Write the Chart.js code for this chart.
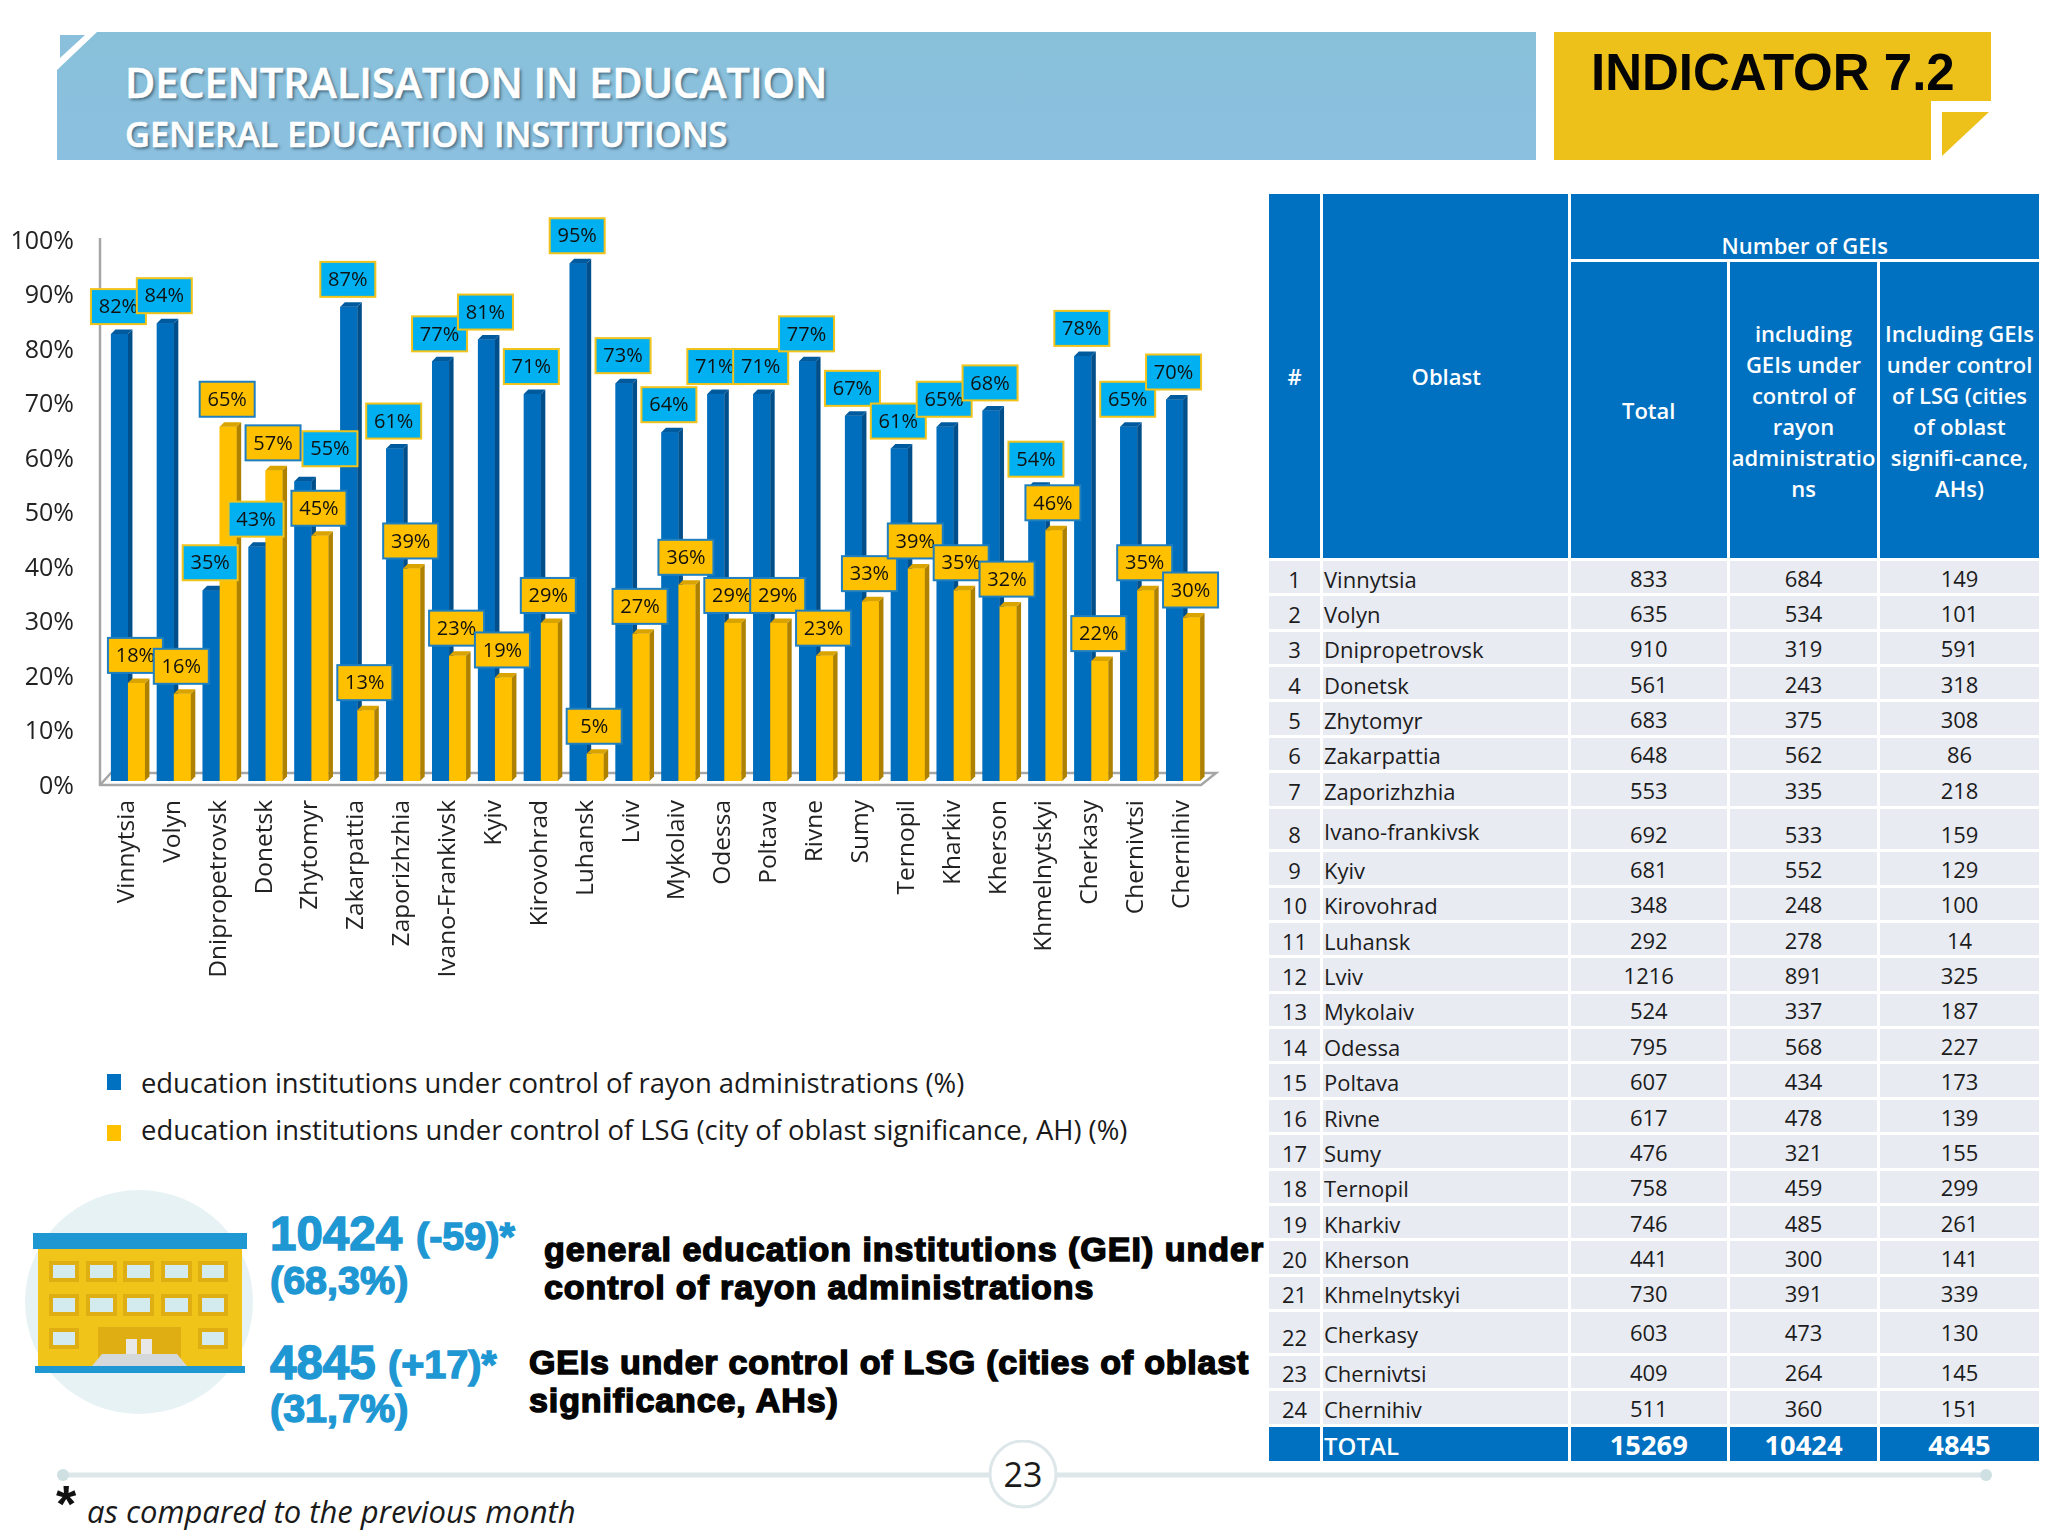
<!DOCTYPE html>
<html>
<head>
<meta charset="utf-8">
<title>Indicator 7.2</title>
<script src="https://cdn.jsdelivr.net/npm/chart.js@4"></script>
<style>
  html, body { margin: 0; padding: 0; background: #fff; }
  body { position: relative; width: 2048px; height: 1536px; overflow: hidden; font-family: "Open Sans", sans-serif; color: #1a1a1a; }
  .abs { position: absolute; white-space: nowrap; line-height: 1; }
  #chartBox { position: absolute; left: 0; top: 190px; width: 1260px; height: 820px; }
  .title1 { left: 125px; top: 62px; font-size: 41.3px; font-weight: 600; color: #fff; -webkit-text-stroke: 0.6px #fff; text-shadow: 2px 2px 3px rgba(50,80,100,.75); }
  .title2 { left: 125px; top: 117px; font-size: 34.3px; font-weight: 600; color: #fff; -webkit-text-stroke: 0.6px #fff; text-shadow: 2px 2px 3px rgba(50,80,100,.75); }
  .indicator { left: 1591px; top: 43px; font: bold 51px "Liberation Sans", sans-serif; color: #050505; }
  .legendMark { position: absolute; width: 14px; height: 16px; }
  .legendText { left: 141px; font-size: 27.4px; color: #1a1a1a; }
  .stat { font-family: "Liberation Sans", sans-serif; font-weight: bold; color: #1e97d3; -webkit-text-stroke: 1.4px #1e97d3; }
  .big { font-size: 47.5px; }
  .mid { font-size: 39.5px; }
  .note { font: bold 34px "Liberation Sans", sans-serif; letter-spacing: 0.9px; color: #050505; -webkit-text-stroke: 1.5px #050505; }
  #table { position: absolute; left: 1269px; top: 194px; display: grid; grid-template-columns: 51px 244.5px 156.5px 147px 159px; gap: 3px; font-size: 22px; }
  #table div { display: flex; align-items: center; justify-content: center; box-sizing: border-box; background: #e9ebf3; color: #1c1c1c; line-height: 31px; text-align: center; }
  #table div.hd { background: #0070c0; color: #fff; font-weight: 600; font-size: 22px; }
  #table div.name { justify-content: flex-start; padding-left: 1px; }
  #table div.tot { background: #0070c0; color: #fff; font-weight: 700; font-size: 27.3px; }
</style>
</head>
<body>

<!-- cabecalho -->
<svg class="abs" style="left:0;top:0" width="2048" height="180">
  <defs>
    <linearGradient id="bannerFill" x1="0" y1="0" x2="0" y2="1">
      <stop offset="0" stop-color="#88c0d9"/>
      <stop offset="1" stop-color="#8cc0e0"/>
    </linearGradient>
  </defs>
  <polygon points="97,32 1536,32 1536,160 57,160 57,70" fill="url(#bannerFill)"/>
  <polygon points="60,35 85,35 60,58" fill="#8bc0dd"/>
  <polygon points="1554,32 1991,32 1991,101 1931,101 1931,160 1554,160" fill="#eec11a"/>
  <polygon points="1942,112 1989,112 1942,156" fill="#eec11a"/>
</svg>
<div class="abs title1">DECENTRALISATION IN EDUCATION</div>
<div class="abs title2">GENERAL EDUCATION INSTITUTIONS</div>
<div class="abs indicator">INDICATOR 7.2</div>

<div id="chartBox"><canvas id="educationChart" width="1260" height="820"></canvas></div>

<!-- legenda -->
<div class="legendMark" style="left:107px;top:1074px;background:#0070c0"></div>
<div class="abs legendText" style="top:1069px;letter-spacing:-0.04px">education institutions under control of rayon administrations (%)</div>
<div class="legendMark" style="left:107px;top:1125px;background:#ffc000"></div>
<div class="abs legendText" style="top:1116px">education institutions under control of LSG (city of oblast significance, AH) (%)</div>

<!-- predio -->
<svg class="abs" style="left:0;top:1180px" width="270" height="245">
  <g transform="translate(0,-1180)">
    <ellipse cx="139" cy="1302" rx="114" ry="112" fill="#e7f2f5"/>
    <rect x="38" y="1248" width="204" height="119" fill="#f0c419"/>
    <rect x="33" y="1233" width="214" height="16" fill="#1e97d3"/>
    <rect x="98" y="1327" width="83" height="35" fill="#dfae12"/>
    <g fill="#dfae12">
      <rect x="49" y="1261" width="30" height="21"/><rect x="86" y="1261" width="31" height="21"/><rect x="123" y="1261" width="31" height="21"/><rect x="161" y="1261" width="31" height="21"/><rect x="198" y="1261" width="30" height="21"/>
      <rect x="49" y="1294" width="30" height="22"/><rect x="86" y="1294" width="31" height="22"/><rect x="123" y="1294" width="31" height="22"/><rect x="161" y="1294" width="31" height="22"/><rect x="198" y="1294" width="30" height="22"/>
      <rect x="49" y="1328" width="30" height="21"/><rect x="198" y="1328" width="30" height="21"/>
    </g>
    <g fill="#d3eaee">
      <rect x="53" y="1265" width="22" height="13"/><rect x="90" y="1265" width="23" height="13"/><rect x="127" y="1265" width="23" height="13"/><rect x="165" y="1265" width="23" height="13"/><rect x="202" y="1265" width="22" height="13"/>
      <rect x="53" y="1298" width="22" height="14"/><rect x="90" y="1298" width="23" height="14"/><rect x="127" y="1298" width="23" height="14"/><rect x="165" y="1298" width="23" height="14"/><rect x="202" y="1298" width="22" height="14"/>
      <rect x="53" y="1332" width="22" height="13"/><rect x="202" y="1332" width="22" height="13"/>
    </g>
    <rect x="126" y="1339" width="11" height="16" fill="#e8e8e8"/><rect x="141" y="1339" width="11" height="16" fill="#e8e8e8"/>
    <polygon points="102,1354 177,1354 187,1366 92,1366" fill="#d5d8da"/>
    <rect x="35" y="1366" width="210" height="7" fill="#1e97d3"/>
  </g>
</svg>

<!-- numeros -->
<div class="abs stat big" style="left:270px;top:1210px">10424</div>
<div class="abs stat mid" style="left:416px;top:1217px">(-59)*</div>
<div class="abs stat mid" style="left:270px;top:1261px">(68,3%)</div>
<div class="abs stat big" style="left:270px;top:1339px">4845</div>
<div class="abs stat mid" style="left:388px;top:1345px">(+17)*</div>
<div class="abs stat mid" style="left:270px;top:1389px">(31,7%)</div>
<div class="abs note" style="left:544px;top:1230px;letter-spacing:1px">general education institutions (GEI) under</div>
<div class="abs note" style="left:544px;top:1268px">control of rayon administrations</div>
<div class="abs note" style="left:529px;top:1343px;letter-spacing:0.8px">GEIs under control of LSG (cities of oblast</div>
<div class="abs note" style="left:529px;top:1381px">significance, AHs)</div>

<!-- tabela -->
<div id="table"></div>

<!-- rodape -->
<svg class="abs" style="left:0;top:1440px" width="2048" height="70">
  <rect x="61" y="32.5" width="1925" height="5" fill="#dde7e9"/>
  <circle cx="63" cy="35" r="6" fill="#cfe0e3"/>
  <circle cx="1986" cy="35" r="6" fill="#cfe0e3"/>
  <circle cx="1023" cy="34" r="33" fill="#fff" stroke="#dde7e9" stroke-width="3"/>
</svg>
<div class="abs" style="left:1003px;top:1457px;font-size:34px;width:40px;text-align:center">23</div>
<div class="abs" style="left:56px;top:1474px;font:bold 52px 'Liberation Sans',sans-serif;color:#111">*</div>
<div class="abs" style="left:87px;top:1496px;font-size:31px;font-style:italic;color:#1a1a1a">as compared to the previous month</div>

<script>
const categories = ['Vinnytsia', 'Volyn', 'Dnipropetrovsk', 'Donetsk', 'Zhytomyr', 'Zakarpattia', 'Zaporizhzhia', 'Ivano-Frankivsk', 'Kyiv', 'Kirovohrad', 'Luhansk', 'Lviv', 'Mykolaiv', 'Odessa', 'Poltava', 'Rivne', 'Sumy', 'Ternopil', 'Kharkiv', 'Kherson', 'Khmelnytskyi', 'Cherkasy', 'Chernivtsi', 'Chernihiv'];
const rayonShare = [82, 84, 35, 43, 55, 87, 61, 77, 81, 71, 95, 73, 64, 71, 71, 77, 67, 61, 65, 68, 54, 78, 65, 70];
const lsgShare = [18, 16, 65, 57, 45, 13, 39, 23, 19, 29, 5, 27, 36, 29, 29, 23, 33, 39, 35, 32, 46, 22, 35, 30];

const oblastNames = ['Vinnytsia', 'Volyn', 'Dnipropetrovsk', 'Donetsk', 'Zhytomyr', 'Zakarpattia', 'Zaporizhzhia', 'Ivano-frankivsk', 'Kyiv', 'Kirovohrad', 'Luhansk', 'Lviv', 'Mykolaiv', 'Odessa', 'Poltava', 'Rivne', 'Sumy', 'Ternopil', 'Kharkiv', 'Kherson', 'Khmelnytskyi', 'Cherkasy', 'Chernivtsi', 'Chernihiv'];
const totalCounts = [833, 635, 910, 561, 683, 648, 553, 692, 681, 348, 292, 1216, 524, 795, 607, 617, 476, 758, 746, 441, 730, 603, 409, 511];
const rayonCounts = [684, 534, 319, 243, 375, 562, 335, 533, 552, 248, 278, 891, 337, 568, 434, 478, 321, 459, 485, 300, 391, 473, 264, 360];
const lsgCounts = [149, 101, 591, 318, 308, 86, 218, 159, 129, 100, 14, 325, 187, 227, 173, 139, 155, 299, 261, 141, 339, 130, 145, 151];
const totalRow = ['TOTAL', '15269', '10424', '4845'];

// monta a tabela da direita
function buildTable() {
  const table = document.getElementById('table');
  const add = (text, cls, style) => {
    const el = document.createElement('div');
    el.className = cls || '';
    el.innerHTML = text;
    if (style) el.style.cssText = style;
    table.appendChild(el);
  };

  add('#', 'hd', 'grid-row:1 / span 2;grid-column:1');
  add('Oblast', 'hd', 'grid-row:1 / span 2;grid-column:2;padding-left:2px');
  add('Number of GEIs', 'hd', 'grid-row:1;grid-column:3 / span 3;height:65px;padding-top:38px');
  add('Total', 'hd', 'grid-row:2;grid-column:3;height:296px');
  add('including<br>GEIs under<br>control of<br>rayon<br>administratio<br>ns', 'hd', 'grid-row:2;grid-column:4;height:296px;padding-top:2px');
  add('Including GEIs<br>under control<br>of LSG (cities<br>of oblast<br>signifi-cance,<br>AHs)', 'hd', 'grid-row:2;grid-column:5;height:296px;padding-top:2px');

  oblastNames.forEach((name, i) => {
    const tall = i === 7 || i === 21;
    const h = tall ? 40.8 : 32.37;
    let numPad = 2, namePad = 4, idPad = 4;
    if (i === 7) { numPad = 12; namePad = 5; idPad = 12; }
    if (i === 21) { numPad = 1; namePad = 5; idPad = 11; }
    const cell = (pad) => `height:${h}px;padding-top:${pad}px`;
    add(String(i + 1), '', cell(idPad));
    add(name, 'name', cell(namePad));
    add(String(totalCounts[i]), '', cell(numPad));
    add(String(rayonCounts[i]), '', cell(numPad));
    add(String(lsgCounts[i]), '', cell(numPad));
  });

  add('', 'tot', 'height:34px');
  add(totalRow[0], 'tot name', 'height:34px;padding-top:4px;font-weight:600;font-size:24px');
  add(totalRow[1], 'tot', 'height:34px;padding-top:2px');
  add(totalRow[2], 'tot', 'height:34px;padding-top:2px');
  add(totalRow[3], 'tot', 'height:34px;padding-top:2px');
}

// paredes e piso do grafico 3D
const floorPlugin = {
  id: 'floorPlugin',
  beforeDatasetsDraw(chart) {
    const { ctx, chartArea: a } = chart;
    ctx.save();
    ctx.strokeStyle = '#a6a6a6';
    ctx.lineWidth = 2.5;
    ctx.beginPath();
    ctx.moveTo(a.left - 5, a.top + 2);
    ctx.lineTo(a.left - 5, a.bottom + 4);
    ctx.lineTo(a.right - 5, a.bottom + 4);
    ctx.lineTo(a.right + 10, a.bottom - 8);
    ctx.lineTo(a.left + 6, a.bottom - 8);
    ctx.lineTo(a.left - 5, a.bottom + 4);
    ctx.stroke();
    ctx.restore();
  }
};

// redesenha as barras na ordem azul -> laranja, com faces laterais e topo
const depth = 4.5;
const bar3dPlugin = {
  id: 'bar3dPlugin',
  afterDatasetsDraw(chart) {
    const { ctx } = chart;
    chart.data.datasets.forEach((ds, d) => {
      const meta = chart.getDatasetMeta(d);
      ctx.save();
      meta.data.forEach((bar) => {
        const hw = bar.width / 2;
        const r = bar.x + hw, l = bar.x - hw;
        bar.draw(ctx);
        ctx.fillStyle = ds.sideColor;
        ctx.beginPath();
        ctx.moveTo(r, bar.y);
        ctx.lineTo(r + depth, bar.y - depth);
        ctx.lineTo(r + depth, bar.base - depth);
        ctx.lineTo(r, bar.base);
        ctx.closePath();
        ctx.fill();
        ctx.fillStyle = ds.topColor;
        ctx.beginPath();
        ctx.moveTo(l, bar.y);
        ctx.lineTo(l + depth, bar.y - depth);
        ctx.lineTo(r + depth, bar.y - depth);
        ctx.lineTo(r, bar.y);
        ctx.closePath();
        ctx.fill();
      });
      ctx.restore();
    });
  }
};

// caixas com os percentuais, por cima de tudo
// a caixa de Zhytomyr (azul) foi movida a mao no original
const boxNudge = { '0:4': { dx: 28, dy: -5 } };
const boxLabelPlugin = {
  id: 'boxLabelPlugin',
  afterDatasetsDraw(chart) {
    const { ctx } = chart;
    const boxW = 55, boxH = 35;
    ctx.save();
    ctx.font = '20px "Open Sans"';
    ctx.textAlign = 'center';
    ctx.textBaseline = 'middle';
    chart.data.datasets.forEach((ds, d) => {
      chart.getDatasetMeta(d).data.forEach((bar, i) => {
        const nudge = boxNudge[`${d}:${i}`] || { dx: 0, dy: 0 };
        const cx = bar.x - 1 + nudge.dx, cy = bar.y - 27.5 + nudge.dy;
        ctx.fillStyle = ds.boxFill;
        ctx.strokeStyle = ds.boxLine;
        ctx.lineWidth = 2;
        ctx.fillRect(cx - boxW / 2, cy - boxH / 2, boxW, boxH);
        ctx.strokeRect(cx - boxW / 2, cy - boxH / 2, boxW, boxH);
        ctx.fillStyle = '#111';
        ctx.fillText(ds.data[i] + '%', cx, cy + 1);
      });
    });
    ctx.restore();
  }
};

function renderChart() {
  const canvas = document.getElementById('educationChart');
  new Chart(canvas, {
    type: 'bar',
    data: {
      labels: categories,
      datasets: [
        {
          label: 'education institutions under control of rayon administrations (%)',
          data: rayonShare,
          backgroundColor: '#006ebd',
          sideColor: '#004f8a',
          topColor: '#005a9e',
          boxFill: '#00b0f0',
          boxLine: '#f2c31a'
        },
        {
          label: 'education institutions under control of LSG (city of oblast significance, AH) (%)',
          data: lsgShare,
          backgroundColor: '#ffc000',
          sideColor: '#ae8200',
          topColor: '#d9a300',
          boxFill: '#ffc000',
          boxLine: '#1f7fc0'
        }
      ]
    },
    options: {
      responsive: false,
      animation: false,
      devicePixelRatio: 1,
      categoryPercentage: 0.741,
      barPercentage: 1,
      layout: { padding: { top: 46, right: 54, left: 0, bottom: 0 } },
      plugins: { legend: { display: false }, tooltip: { enabled: false } },
      scales: {
        x: {
          grid: { display: false, drawTicks: false },
          border: { display: false },
          afterFit: (scale) => { scale.height = 229; },
          ticks: {
            autoSkip: false,
            minRotation: 90,
            maxRotation: 90,
            padding: 19,
            labelOffset: -1,
            color: '#222',
            font: { family: 'Open Sans', size: 24.5 }
          }
        },
        y: {
          min: 0,
          max: 100,
          grid: { display: false, drawTicks: false },
          border: { display: false },
          afterFit: (scale) => { scale.width = 105; },
          ticks: {
            stepSize: 10,
            padding: 31,
            labelOffset: 5.5,
            color: '#222',
            font: { family: 'Open Sans', size: 25 },
            callback: (value) => `${value}%`
          }
        }
      }
    },
    plugins: [floorPlugin, bar3dPlugin, boxLabelPlugin]
  });
}

buildTable();
renderChart();
</script>
</body>
</html>
